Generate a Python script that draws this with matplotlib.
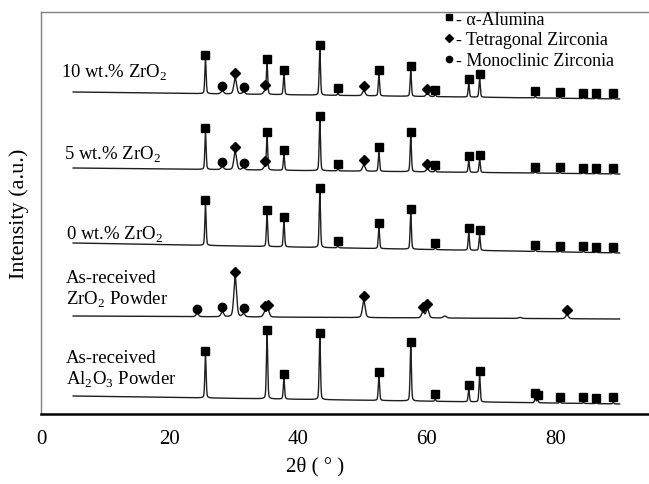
"""XRD patterns of Al2O3 / ZrO2 composites and as-received powders (stacked)."""

import matplotlib
matplotlib.use("Agg")
import matplotlib.pyplot as plt
import numpy as np
from matplotlib.lines import Line2D

plt.rcParams["font.family"] = ["Liberation Serif", "DejaVu Serif"]
plt.rcParams["mathtext.fontset"] = "custom"
plt.rcParams["mathtext.rm"] = "Liberation Serif"

# peak positions (2theta, deg)
ALU_POS = [25.58, 35.15, 37.78, 43.36, 46.18, 52.55, 57.50, 61.30,
           66.52, 68.21, 76.87, 77.23, 80.70, 84.36, 86.36, 88.99]
TET_POS = [30.2, 34.8, 35.3, 50.2, 59.4, 60.1, 81.8]
MONO_POS = [24.3, 28.2, 31.5]
EXTRA_POS = [62.8, 74.5]          # small unlabelled zirconia reflections

# peak heights (a.u.) per pattern
ALU_10 = [34, 30, 20, 45, 2, 21, 25, 2, 13, 18.5, 1.5, 0, 1, 1, 1, 1]
ALU_5 = [36, 32, 15, 50, 2, 19, 35, 2, 11, 13, 1.5, 0, 1, 1, 1, 1]
ALU_0 = [40, 32, 25, 55, 2, 21, 35, 2, 17, 15, 1.5, 0, 1, 1, 1, 1]
ALU_AL = [42, 64, 20, 62, 0, 24, 54, 2, 12, 26, 5, 3, 1.5, 1, 1, 1.5]
ALU_ZR = [0] * 16

TET_10 = [16, 3, 0, 5, 0, 3, 0]
TET_5 = [18, 3, 0, 6, 0, 3, 0]
TET_0 = [0] * 7
TET_ZR = [40, 5, 7, 17, 6, 9, 4]
TET_AL = [0] * 7

MONO_10 = [0, 3, 2]
MONO_5 = [0, 3, 2]
MONO_0 = [0, 0, 0]
MONO_ZR = [3, 5, 3]
MONO_AL = [0, 0, 0]

EXTRA_ZR = [2, 1]

# background level at 2theta = 5 and 90
BG_START = [322, 246, 171, 98, 18]
BG_END = [315, 240, 161, 95, 10]

LABELS = ["10 wt.% ZrO$_2$", "5 wt.% ZrO$_2$", "0 wt.% ZrO$_2$",
          "As-received\nZrO$_2$ Powder", "As-received\nAl$_2$O$_3$ Powder"]
LABEL_X = [3.1, 3.6, 3.9, 3.9, 3.9]
LABEL_Y = [342, 260, 180, 125, 45]

PATTERNS = [
    (ALU_10, TET_10, MONO_10, None),
    (ALU_5, TET_5, MONO_5, None),
    (ALU_0, TET_0, MONO_0, None),
    (ALU_ZR, TET_ZR, MONO_ZR, EXTRA_ZR),
    (ALU_AL, TET_AL, MONO_AL, None),
]


def pseudo_voigt(x, pos, h, fwhm, eta=0.3):
    d = (x - pos) / fwhm
    g = np.exp(-4 * np.log(2) * d ** 2)
    lor = 1 / (1 + 4 * d ** 2)
    return h * (eta * lor + (1 - eta) * g)


def build_trace(x, bg0, bg1, alu, tet, mono, extra):
    y = bg0 + (bg1 - bg0) * (x - 5) / 85
    for p, h in zip(ALU_POS, alu):
        y = y + pseudo_voigt(x, p, h, 0.24)
    for p, h in zip(TET_POS, tet):
        y = y + pseudo_voigt(x, p, h, 0.5)
    for p, h in zip(MONO_POS, mono):
        y = y + pseudo_voigt(x, p, h, 0.5)
    if extra:
        for p, h in zip(EXTRA_POS, extra):
            y = y + pseudo_voigt(x, p, h, 0.6)
    return y


fig = plt.figure(figsize=(6.49, 4.85), dpi=100)
ax = fig.add_axes([41 / 649, 1 - 415 / 485, 608 / 649, 402 / 485])

x = np.arange(5, 90, 0.02)
mk = dict(color="black", linestyle="none", zorder=4)

for i, (alu, tet, mono, extra) in enumerate(PATTERNS):
    y = build_trace(x, BG_START[i], BG_END[i], alu, tet, mono, extra)
    ax.plot(x, y, color="#1e1e1e", linewidth=1.0)

    for positions, heights, marker, ms in [(ALU_POS, alu, "s", 5.5),
                                           (TET_POS, tet, "D", 5),
                                           (MONO_POS, mono, "o", 6)]:
        px = [p for p, h in zip(positions, heights) if h > 0]
        py = [np.interp(p, x, y) + 5 for p in px]
        ax.plot(px, py, marker=marker, markersize=ms, **mk)

    ax.text(LABEL_X[i], LABEL_Y[i], LABELS[i], fontsize=13.5,
            va="center", ha="left", linespacing=1.15)

ax.set_xlim(0, 94.55)
ax.set_ylim(0, 402)
ax.set_xticks([0, 20, 40, 60, 80])
ax.set_yticks([])
ax.tick_params(axis="x", length=0, pad=11, labelsize=15)

for side in ["top", "left"]:
    ax.spines[side].set_color("#808080")
    ax.spines[side].set_linewidth(1.0)
ax.spines["bottom"].set_color("black")
ax.spines["bottom"].set_linewidth(1.8)
ax.spines["right"].set_visible(False)

ax.set_xlabel("2θ ( ° )", fontsize=15)
ax.xaxis.set_label_coords(0.45, -0.105)
ax.set_ylabel("Intensity (a.u.)", fontsize=16)
ax.yaxis.set_label_coords(-0.02, 0.5)

handles = [
    Line2D([], [], marker="s", markersize=4.5, **mk),
    Line2D([], [], marker="D", markersize=4, **mk),
    Line2D([], [], marker="o", markersize=4.5, **mk),
]
ax.legend(handles, ["- α-Alumina", "- Tetragonal Zirconia", "- Monoclinic Zirconia"],
          loc="upper left", bbox_to_anchor=(0.664, 1.003), frameon=False,
          fontsize=13, handlelength=0.5, handletextpad=0.15,
          labelspacing=0.2, borderpad=0, borderaxespad=0)

fig.savefig("out.png", dpi=100)
